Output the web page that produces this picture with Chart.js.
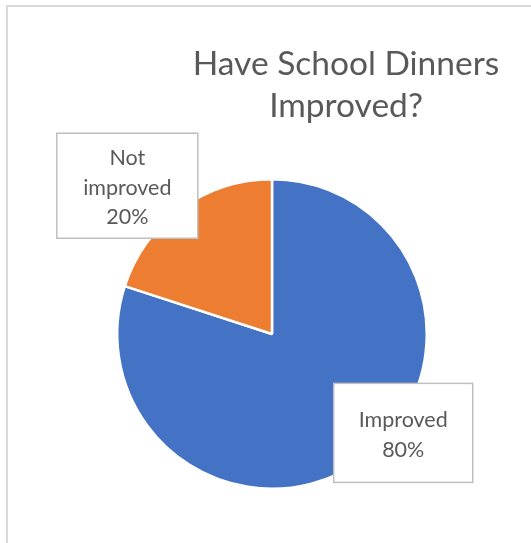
<!DOCTYPE html>
<html>
<head>
<meta charset="utf-8">
<script src="https://cdn.jsdelivr.net/npm/chart.js@4.4.1/dist/chart.umd.min.js"></script>
<style>
  body { margin: 0; background: #fff; }
  canvas { display: block; }
</style>
</head>
<body>
<canvas id="myChart" width="531" height="543"></canvas>
<script>
const titleLines = ['Have School Dinners', 'Improved?'];
const categories = ['Improved', 'Not improved'];
const percentages = [80, 20];
const sliceColors = ['#4472C4', '#ED7D31'];

const FONT = 'Lato, "Open Sans", "Liberation Sans", sans-serif';

// frame + title, drawn on the canvas
const framePlugin = {
    id: 'frame',
    beforeDraw(chart) {
        const ctx = chart.ctx;
        ctx.save();
        ctx.fillStyle = '#fff';
        ctx.fillRect(0, 0, chart.width, chart.height);
        ctx.strokeStyle = '#d9d9d9';
        ctx.lineWidth = 2;
        ctx.beginPath();
        ctx.moveTo(7, chart.height + 5);
        ctx.lineTo(7, 6);
        ctx.lineTo(chart.width + 5, 6);
        ctx.stroke();

        ctx.fillStyle = '#595959';
        ctx.font = '33.5px ' + FONT;
        ctx.textAlign = 'center';
        ctx.textBaseline = 'middle';
        ctx.fillText(titleLines[0], 346, 64);
        ctx.fillText(titleLines[1], 346, 106);
        ctx.restore();
    }
};

// boxed data labels ("Improved 80%")
const boxLabels = {
    id: 'boxLabels',
    afterDatasetsDraw(chart, args, opts) {
        const ctx = chart.ctx;
        const meta = chart.getDatasetMeta(0);
        meta.data.forEach((arc, i) => {
            const p = arc.getProps(['x', 'y', 'outerRadius']);
            const o = opts.offsets[i];
            const cx = p.x + o[0] * p.outerRadius;
            const cy = p.y + o[1] * p.outerRadius;
            const w = opts.sizes[i][0], h = opts.sizes[i][1];
            const lines = opts.lines[i].concat([percentages[i] + '%']);

            ctx.save();
            ctx.fillStyle = '#fff';
            ctx.fillRect(cx - w / 2, cy - h / 2, w, h);
            ctx.strokeStyle = '#bfbfbf';
            ctx.lineWidth = 1.5;
            ctx.strokeRect(cx - w / 2, cy - h / 2, w, h);

            ctx.fillStyle = '#595959';
            ctx.font = '21.5px ' + FONT;
            ctx.textAlign = 'center';
            ctx.textBaseline = 'middle';
            const lh = 29.5;
            const top = cy + 2 - (lines.length - 1) * lh / 2;
            lines.forEach((t, k) => ctx.fillText(t, cx, top + k * lh));
            ctx.restore();
        });
    }
};

const ctx = document.getElementById('myChart');

const config = {
    type: 'pie',
    data: {
        labels: categories,
        datasets: [{
            data: percentages,
            backgroundColor: sliceColors,
            borderColor: '#ffffff',
            borderWidth: 2.5
        }]
    },
    options: {
        responsive: false,
        animation: false,
        layout: {
            padding: { left: 116, right: 103, top: 178, bottom: 53 }
        },
        plugins: {
            legend: { display: false },
            tooltip: { enabled: false },
            title: { display: false },
            boxLabels: {
                lines: [['Improved'], ['Not', 'improved']],
                offsets: [[0.848, 0.639], [-0.935, -0.958]],
                sizes: [[139, 99], [141, 105]]
            }
        }
    },
    plugins: [framePlugin, boxLabels]
};

let chart = new Chart(ctx, config);
</script>
</body>
</html>
